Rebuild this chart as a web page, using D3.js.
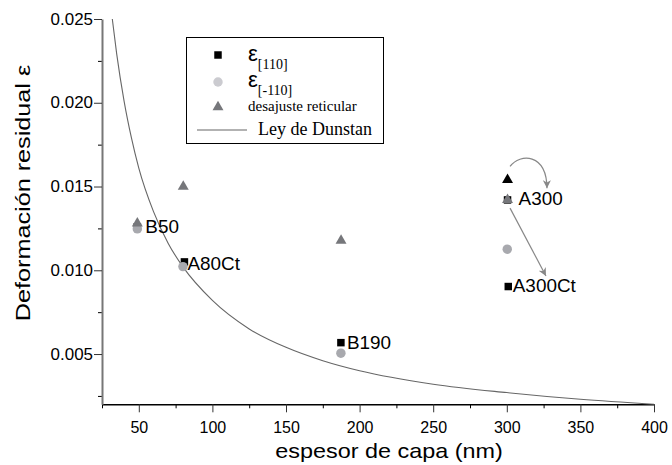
<!DOCTYPE html>
<html>
<head>
<meta charset="utf-8">
<script src="https://cdn.jsdelivr.net/npm/d3@7"></script>
<style>
  body { margin: 0; background: #fff; }
  svg { display: block; }
</style>
</head>
<body>
<div id="chart"></div>
<script>
// tick values
const xMajor = [50, 100, 150, 200, 250, 300, 350, 400];
const xMinor = [25, 75, 125, 175, 225, 275, 325, 375];
const yMajor = [0.005, 0.010, 0.015, 0.020, 0.025];
const yMinor = [0.0025, 0.0075, 0.0125, 0.0175, 0.0225];

// epsilon [110] (black squares)
const sqT = [49, 81, 187.3, 300.5, 301];
const sqV = [0.0126, 0.0105, 0.00568, 0.0142, 0.00903];

// epsilon [-110] (light grey circles)
const ciT = [49, 80, 187.3, 300.3];
const ciV = [0.01247, 0.01022, 0.00505, 0.01126];

// desajuste reticular (grey triangles)
const trT = [49, 80.2, 187.4, 300.5];
const trV = [0.0128, 0.0150, 0.01177, 0.0142];

// black triangle at A300
const btT = [300.5];
const btV = [0.0154];

// sample names, placed next to the squares
const names = ["B50", "A80Ct", "B190", "A300", "A300Ct"];

// Ley de Dunstan
const dunT = [32, 35, 40, 45, 50, 60, 70, 80, 100, 125, 150, 175, 200, 250, 300, 350, 400];
const dunV = [0.0250, 0.0229, 0.0201, 0.0179, 0.0161, 0.0135, 0.0116, 0.0102, 0.0082,
              0.0065, 0.0054, 0.0046, 0.0040, 0.0032, 0.0027, 0.0023, 0.0020];

// arrows in data units
const arcPts = [[302.2, 0.0162], [309, 0.0170], [327, 0.0170], [327.3, 0.0149]];
const linePts = [[302.2, 0.01371], [326.6, 0.00966]];

const width = 672, height = 465;
const sans = "'Liberation Sans', Arial, sans-serif";
const serif = "'Liberation Serif', 'Times New Roman', serif";

const svg = d3.select("#chart").append("svg")
    .attr("width", width)
    .attr("height", height);

const x = d3.scaleLinear().domain([25, 400]).range([102, 654]);
const y = d3.scaleLinear().domain([0.002, 0.025]).range([404.3, 19]);

// ---- axes
svg.append("g")
    .attr("transform", "translate(0,404.3)")
    .call(d3.axisBottom(x).tickValues(xMinor).tickSize(4).tickSizeOuter(0).tickFormat(""))
    .call(g => g.select(".domain").remove());

let xAx = svg.append("g")
    .attr("transform", "translate(0,404.3)")
    .call(d3.axisBottom(x).tickValues(xMajor).tickSize(8).tickSizeOuter(0).tickPadding(9));
xAx.select(".domain").attr("stroke", "#000").attr("stroke-width", 1.5);
xAx.selectAll(".tick line").attr("stroke", "#333");
xAx.selectAll("text").style("font-family", sans).style("font-size", "16px").attr("fill", "#000");

svg.append("g")
    .attr("transform", "translate(102,0)")
    .call(d3.axisLeft(y).tickValues(yMinor).tickSize(4).tickSizeOuter(0).tickFormat(""))
    .call(g => g.select(".domain").remove());

let yAx = svg.append("g")
    .attr("transform", "translate(102,0)")
    .call(d3.axisLeft(y).tickValues(yMajor).tickSize(8).tickSizeOuter(0).tickPadding(1)
        .tickFormat(d3.format(".3f")));
yAx.select(".domain").attr("stroke", "#777").attr("stroke-width", 2);
yAx.selectAll(".tick line").attr("stroke", "#333");
yAx.selectAll("text")
    .style("font-family", sans).style("font-size", "16px").attr("fill", "#000")
    .attr("transform", "scale(1.06,1)")
    .attr("x", -9 / 1.06);

// axis titles (the original text is a bit wider than Arial)
svg.append("text")
    .attr("transform", "translate(389,458) scale(1.17,1)")
    .attr("text-anchor", "middle")
    .style("font-family", sans)
    .style("font-size", "20px")
    .text("espesor de capa (nm)");

svg.append("text")
    .attr("transform", "translate(30,193) rotate(-90) scale(1.2,1)")
    .attr("text-anchor", "middle")
    .style("font-family", sans)
    .style("font-size", "21px")
    .text("Deformación residual  ε");

// ---- Dunstan curve
let line = d3.line()
    .x((d, i) => x(dunT[i]))
    .y((d, i) => y(dunV[i]))
    .curve(d3.curveMonotoneX);

svg.append("path")
    .datum(dunV)
    .attr("fill", "none")
    .attr("stroke", "#666")
    .attr("stroke-width", 1.1)
    .attr("d", line);

// ---- markers
let sym = (type, size) => d3.symbol().type(type).size(size);

svg.selectAll(".sq")
    .data(sqV)
    .join("path")
    .attr("class", "sq")
    .attr("transform", (d, i) => "translate(" + x(sqT[i]) + "," + y(d) + ")")
    .attr("d", sym(d3.symbolSquare, 56))
    .attr("fill", "#000");

svg.selectAll(".ci")
    .data(ciV)
    .join("path")
    .attr("class", "ci")
    .attr("transform", (d, i) => "translate(" + x(ciT[i]) + "," + y(d) + ")")
    .attr("d", sym(d3.symbolCircle, 70))
    .attr("fill", "#a8a9ae");

svg.selectAll(".tr")
    .data(trV)
    .join("path")
    .attr("class", "tr")
    .attr("transform", (d, i) => "translate(" + x(trT[i]) + "," + y(d) + ")")
    .attr("d", sym(d3.symbolTriangle, 52))
    .attr("fill", "#76777b");

svg.selectAll(".bt")
    .data(btV)
    .join("path")
    .attr("class", "bt")
    .attr("transform", (d, i) => "translate(" + x(btT[i]) + "," + y(d) + ")")
    .attr("d", sym(d3.symbolTriangle, 52))
    .attr("fill", "#000");

// sample names
let nameDx = [8, 3, 6, 11, 4.5];
let nameDy = [6, 8, 6, 5, 5];
svg.selectAll(".nm")
    .data(names)
    .join("text")
    .attr("class", "nm")
    .attr("transform", (d, i) => "translate(" + (x(sqT[i]) + nameDx[i]) + "," + (y(sqV[i]) + nameDy[i]) + ") scale(1.08,1)")
    .style("font-family", sans)
    .style("font-size", "17.5px")
    .text(d => d);

// ---- arrows
svg.append("defs").append("marker")
    .attr("id", "head")
    .attr("viewBox", "0 0 10 10")
    .attr("refX", 10)
    .attr("refY", 5)
    .attr("markerWidth", 11)
    .attr("markerHeight", 8)
    .attr("markerUnits", "userSpaceOnUse")
    .attr("orient", "auto")
    .append("path")
    .attr("d", "M0,0 L10,5 L0,10 L3,5 Z")
    .attr("fill", "#888");

let p = d3.path();
p.moveTo(x(arcPts[0][0]), y(arcPts[0][1]));
p.bezierCurveTo(x(arcPts[1][0]), y(arcPts[1][1]), x(arcPts[2][0]), y(arcPts[2][1]),
    x(arcPts[3][0]), y(arcPts[3][1]));
svg.append("path")
    .attr("d", p.toString())
    .attr("fill", "none")
    .attr("stroke", "#888")
    .attr("stroke-width", 1.2)
    .attr("marker-end", "url(#head)");

svg.append("line")
    .attr("x1", x(linePts[0][0]))
    .attr("y1", y(linePts[0][1]))
    .attr("x2", x(linePts[1][0]))
    .attr("y2", y(linePts[1][1]))
    .attr("stroke", "#888")
    .attr("stroke-width", 1.2)
    .attr("marker-end", "url(#head)");

// ---- legend
let leg = svg.append("g");
leg.append("rect")
    .attr("x", 186.5)
    .attr("y", 37.5)
    .attr("width", 197)
    .attr("height", 106)
    .attr("fill", "#fff")
    .attr("stroke", "#000")
    .attr("stroke-width", 1);

leg.append("path")
    .attr("transform", "translate(218,55)")
    .attr("d", sym(d3.symbolSquare, 56))
    .attr("fill", "#000");
leg.append("path")
    .attr("transform", "translate(218,82)")
    .attr("d", sym(d3.symbolCircle, 70))
    .attr("fill", "#cbcbd0");
leg.append("path")
    .attr("transform", "translate(218,107)")
    .attr("d", sym(d3.symbolTriangle, 52))
    .attr("fill", "#76777b");
leg.append("line")
    .attr("x1", 197).attr("x2", 247)
    .attr("y1", 130).attr("y2", 130)
    .attr("stroke", "#666")
    .attr("stroke-width", 1.1);

let e1 = leg.append("text")
    .attr("x", 248).attr("y", 61)
    .style("font-family", sans)
    .style("font-size", "22px");
e1.append("tspan").text("ε");
e1.append("tspan").attr("dy", 8).style("font-family", serif).style("font-size", "14px").text("[110]");

let e2 = leg.append("text")
    .attr("x", 248).attr("y", 87)
    .style("font-family", sans)
    .style("font-size", "22px");
e2.append("tspan").text("ε");
e2.append("tspan").attr("dy", 8).style("font-family", serif).style("font-size", "14px").text("[-110]");

leg.append("text")
    .attr("x", 248).attr("y", 111)
    .style("font-family", serif)
    .style("font-size", "15px")
    .text("desajuste reticular");

leg.append("text")
    .attr("x", 258).attr("y", 135)
    .style("font-family", serif)
    .style("font-size", "18px")
    .text("Ley de Dunstan");
</script>
</body>
</html>
